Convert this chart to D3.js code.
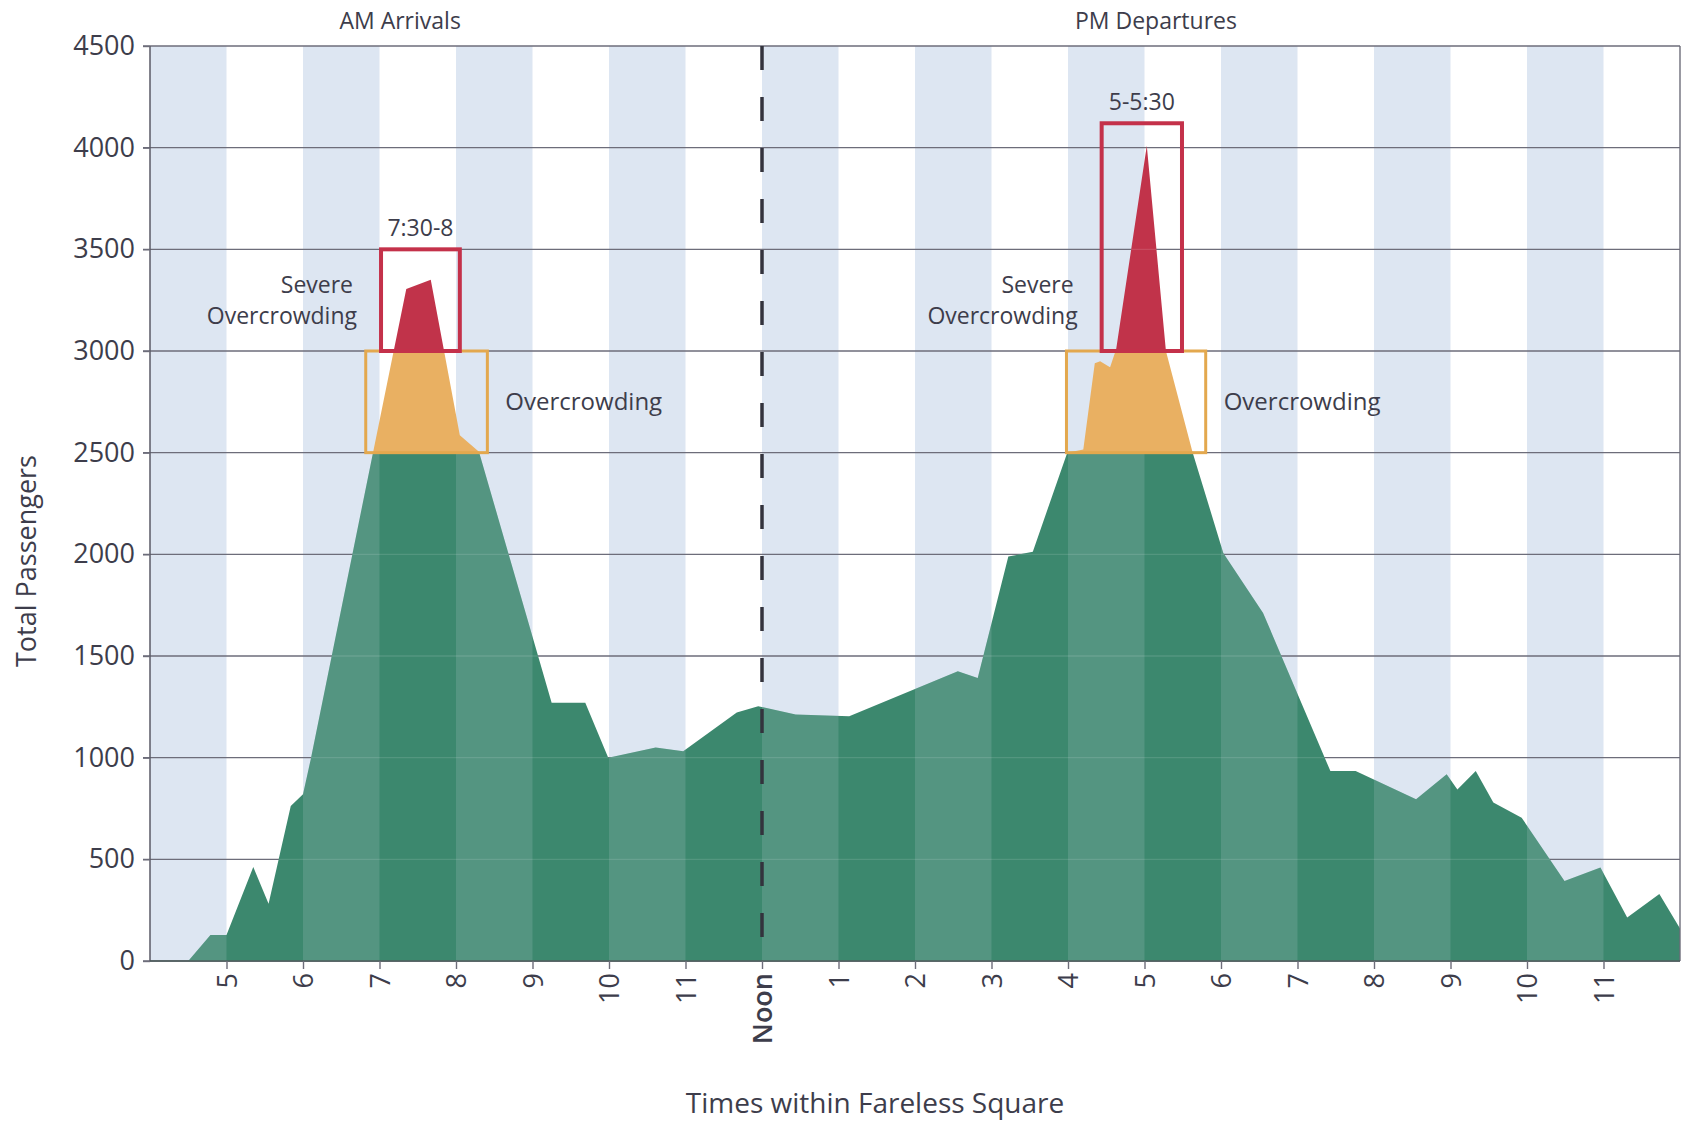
<!DOCTYPE html>
<html>
<head>
<meta charset="utf-8">
<script src="https://cdn.jsdelivr.net/npm/d3@7"></script>
<style>
  body { margin: 0; background: #fff; }
  text { font-family: "Open Sans", sans-serif; fill: #3d3d4b; }
</style>
</head>
<body>
<div class="chart"></div>
<script>
// passengers in fareless square (hour of day, total)
var hours = [4.5, 4.79, 5.0, 5.35, 5.55, 5.84, 6.0, 6.1, 7.35, 7.67, 8.05, 8.3, 9.25, 9.69, 9.99,
  10.61, 10.97, 11.67, 11.95, 12.44, 13.14, 14.56, 14.82, 15.22, 15.54, 15.99, 16.2, 16.35, 16.42,
  16.55, 16.63, 17.03, 17.28, 17.63, 18.03, 18.55, 19.43, 19.76, 20.55, 20.95, 21.09, 21.33, 21.56,
  21.93, 22.49, 22.96, 23.31, 23.73, 24.0];
var riders = [0, 128, 128, 462, 282, 762, 820, 990, 3305, 3350, 2586, 2505, 1270, 1270, 1000,
  1050, 1032, 1222, 1253, 1212, 1204, 1425, 1392, 1989, 2013, 2500, 2515, 2940, 2950,
  2920, 3010, 4010, 3000, 2500, 2007, 1712, 934, 934, 795, 918, 844, 934, 779,
  705, 394, 460, 214, 329, 160];

var tickHours = [5, 6, 7, 8, 9, 10, 11, 12, 13, 14, 15, 16, 17, 18, 19, 20, 21, 22, 23];
var tickLabels = ["5", "6", "7", "8", "9", "10", "11", "Noon", "1", "2", "3", "4", "5", "6", "7", "8", "9", "10", "11"];
var yTicks = [0, 500, 1000, 1500, 2000, 2500, 3000, 3500, 4000, 4500];
var stripeHours = [4, 6, 8, 10, 12, 14, 16, 18, 20, 22];

var overcrowd = 2500;
var severe = 3000;

// annotation boxes
var overX0 = [6.82, 15.98], overX1 = [8.41, 17.8];
var severeX0 = [7.02, 16.44], severeX1 = [8.05, 17.49], severeTop = [3500, 4120];
var severeTitles = ["7:30-8", "5-5:30"];
var periodLabels = ["AM Arrivals", "PM Departures"];
var periodHours = [7.27, 17.15];

var width = 1683;
var height = 1124;
var plotLeft = 150, plotRight = 1680, plotTop = 46, plotBottom = 961;

var green = "#3c886e", orange = "#e9b062", red = "#c1334a", stripe = "#dde6f2";

var x = d3.scaleLinear().domain([4, 24]).range([plotLeft, plotRight]);
var y = d3.scaleLinear().domain([0, 4500]).range([plotBottom, plotTop]);

var svg = d3.select(".chart").append("svg")
    .attr("width", width)
    .attr("height", height)
    .style("display", "block");

var data = hours.map(function(h, i) { return {h: h, v: riders[i]}; });

var area = d3.area()
    .x(function(d) { return x(d.h); })
    .y0(y(0))
    .y1(function(d) { return y(d.v); });

// gradient with hard stops for the three crowding bands
var defs = svg.append("defs");
var grad = defs.append("linearGradient")
    .attr("id", "bands")
    .attr("gradientUnits", "userSpaceOnUse")
    .attr("x1", 0).attr("x2", 0)
    .attr("y1", y(0)).attr("y2", y(4500));
var t1 = overcrowd / 4500, t2 = severe / 4500;
[[0, green], [t1, green], [t1, orange], [t2, orange], [t2, red], [1, red]].forEach(function(s) {
  grad.append("stop").attr("offset", s[0]).attr("stop-color", s[1]);
});

defs.append("clipPath").attr("id", "areaClip")
  .append("path").attr("d", area(data));

// background stripes
svg.append("g").selectAll("rect").data(stripeHours).enter().append("rect")
    .attr("x", function(d) { return x(d); })
    .attr("width", function(d) { return x(d + 1) - x(d); })
    .attr("y", y(4500))
    .attr("height", y(0) - y(4500))
    .attr("fill", stripe);

// grid
svg.append("g").selectAll("line").data(yTicks).enter().append("line")
    .attr("x1", plotLeft - 7).attr("x2", plotRight)
    .attr("y1", function(d) { return y(d); })
    .attr("y2", function(d) { return y(d); })
    .attr("stroke", "#6d6d7a")
    .attr("stroke-width", 1.4);

// the passengers area
svg.append("path")
    .attr("d", area(data))
    .attr("fill", "url(#bands)");

// stripes showing through the green
svg.append("g").selectAll("rect").data(stripeHours).enter().append("rect")
    .attr("x", function(d) { return x(d); })
    .attr("width", function(d) { return x(d + 1) - x(d); })
    .attr("y", y(overcrowd))
    .attr("height", y(0) - y(overcrowd))
    .attr("fill", stripe)
    .attr("opacity", 0.15)
    .attr("clip-path", "url(#areaClip)");

// faint grid inside the area
svg.append("g").attr("clip-path", "url(#areaClip)")
  .selectAll("line").data(yTicks).enter().append("line")
    .attr("x1", plotLeft).attr("x2", plotRight)
    .attr("y1", function(d) { return y(d); })
    .attr("y2", function(d) { return y(d); })
    .attr("stroke", "#ffffff")
    .attr("stroke-opacity", 0.12)
    .attr("stroke-width", 1.4);

// noon divider
svg.append("line")
    .attr("x1", x(12)).attr("x2", x(12))
    .attr("y1", y(4500)).attr("y2", y(0))
    .attr("stroke", "#33333d")
    .attr("stroke-width", 3.5)
    .attr("stroke-dasharray", "24 27");

// frame
svg.append("line").attr("x1", plotLeft).attr("x2", plotLeft).attr("y1", plotTop).attr("y2", plotBottom)
    .attr("stroke", "#5a5a66").attr("stroke-width", 1.5);
svg.append("line").attr("x1", plotRight).attr("x2", plotRight).attr("y1", plotTop).attr("y2", plotBottom)
    .attr("stroke", "#6d6d7a").attr("stroke-width", 1.4);
svg.append("line").attr("x1", plotLeft).attr("x2", plotRight).attr("y1", plotBottom).attr("y2", plotBottom)
    .attr("stroke", "#4a5a58").attr("stroke-width", 1.5);

// y axis labels
var yAxis = svg.append("g")
    .attr("transform", "translate(" + plotLeft + ",0)")
    .call(d3.axisLeft(y).tickValues(yTicks).tickSize(7).tickPadding(8).tickFormat(d3.format("d")));
yAxis.select(".domain").remove();
yAxis.selectAll("line").attr("stroke", "#6d6d7a").attr("stroke-width", 1.4);
yAxis.selectAll("text")
    .style("font-family", "'Open Sans', sans-serif")
    .style("font-size", "27px")
    .attr("fill", "#50505a");

// x axis labels, rotated
var xAxis = svg.append("g")
    .attr("transform", "translate(0," + plotBottom + ")")
    .call(d3.axisBottom(x).tickValues(tickHours).tickSize(8)
      .tickFormat(function(d, i) { return tickLabels[i]; }));
xAxis.select(".domain").remove();
xAxis.selectAll("line").attr("stroke", "#6d6d7a").attr("stroke-width", 1.4);
xAxis.selectAll("text")
    .attr("transform", "rotate(-90)")
    .attr("x", -12)
    .attr("y", 0)
    .attr("dy", "0.36em")
    .style("text-anchor", "end")
    .style("font-family", "'Open Sans', sans-serif")
    .style("font-size", "27px")
    .attr("fill", "#4a4a55")
    .filter(function(d) { return d === 12; })
    .attr("fill", "#2c2c38")
    .style("font-weight", "600");

// annotation boxes
svg.append("g").selectAll("rect").data(overX0).enter().append("rect")
    .attr("x", function(d) { return x(d); })
    .attr("width", function(d, i) { return x(overX1[i]) - x(d); })
    .attr("y", y(severe))
    .attr("height", y(overcrowd) - y(severe))
    .attr("fill", "none")
    .attr("stroke", "#e3a84e")
    .attr("stroke-width", 3);

svg.append("g").selectAll("rect").data(severeX0).enter().append("rect")
    .attr("x", function(d) { return x(d); })
    .attr("width", function(d, i) { return x(severeX1[i]) - x(d); })
    .attr("y", function(d, i) { return y(severeTop[i]); })
    .attr("height", function(d, i) { return y(severe) - y(severeTop[i]); })
    .attr("fill", "none")
    .attr("stroke", "#c4314a")
    .attr("stroke-width", 4);

// annotation text
severeX0.forEach(function(h, i) {
  var cx = (x(h) + x(severeX1[i])) / 2;
  svg.append("text")
      .attr("x", cx)
      .attr("y", y(severeTop[i]) - 13)
      .attr("text-anchor", "middle")
      .style("font-size", "23px")
      .text(severeTitles[i]);

  var g = svg.append("g").attr("text-anchor", "end").style("font-size", "23px");
  g.append("text").attr("x", x(h) - 28).attr("y", y(severe) - 58).text("Severe");
  g.append("text").attr("x", x(h) - 24).attr("y", y(severe) - 27).text("Overcrowding");

  svg.append("text")
      .attr("x", x(overX1[i]) + 18)
      .attr("y", (y(severe) + y(overcrowd)) / 2 + 8)
      .style("font-size", "24px")
      .text("Overcrowding");
});

periodLabels.forEach(function(t, i) {
  svg.append("text")
      .attr("x", x(periodHours[i]))
      .attr("y", 29)
      .attr("text-anchor", "middle")
      .style("font-size", "23px")
      .text(t);
});

// axis titles
svg.append("text")
    .attr("transform", "translate(36,561) rotate(-90)")
    .attr("text-anchor", "middle")
    .style("font-size", "27px")
    .text("Total Passengers");

svg.append("text")
    .attr("x", 875)
    .attr("y", 1113)
    .attr("text-anchor", "middle")
    .style("font-size", "28px")
    .text("Times within Fareless Square");
</script>
</body>
</html>
